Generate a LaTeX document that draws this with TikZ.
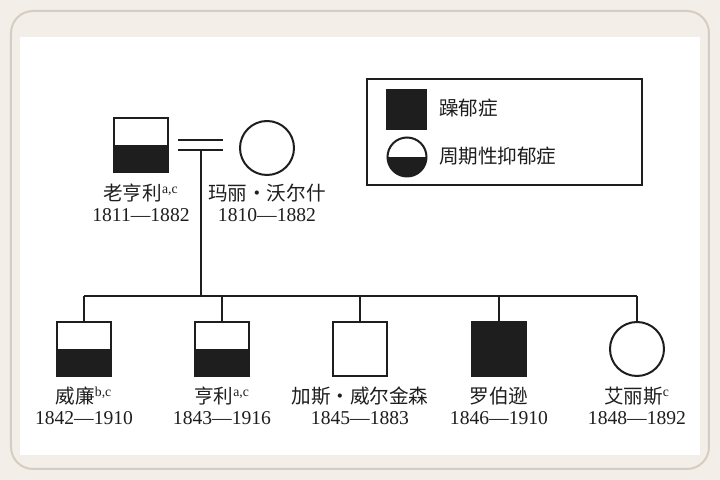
\documentclass[tikz,border=0pt]{standalone}
\usepackage{fontspec}
\setmainfont{Liberation Serif}
\newfontfamily\cjk{Noto Sans CJK SC}
\usetikzlibrary{calc}

\definecolor{paper}{HTML}{F3EEE8}
\definecolor{rim}{HTML}{D6CCC1}
\definecolor{ink}{HTML}{1E1E1E}

\tikzset{
  person/.style={draw=ink, line width=1pt, minimum size=27pt, inner sep=0pt},
  female/.style={person, circle},
  affected/.style={person, fill=ink},
  cyclic/.style={person, path picture={
      \fill[ink] (path picture bounding box.west) rectangle (path picture bounding box.south east);}},
  tag/.style={anchor=base, inner sep=0pt, text=ink, font=\fontsize{9.8}{11}\selectfont},
}

\begin{document}
\begin{tikzpicture}[x=0.5pt, y=-0.5pt, line width=1pt]
  % --- fondo y marco ---
  \useasboundingbox (0,0) rectangle (720,480);
  \fill[paper] (0,0) rectangle (720,480);
  \draw[rim, line width=1pt, rounded corners=11pt] (11,11) rectangle (709,469);
  \fill[white] (20,37) rectangle (700,455);

  % --- padres ---
  \node[cyclic] (lh) at (141,145) {};
  \node[female] (mw) at (267,148) {};
  \node[tag] (lh-n) at (141,200.5) {{\cjk 老亨利}\textsuperscript{a,c}};
  \node[tag] (lh-d) at (141,222) {1811—1882};
  \node[tag] (mw-n) at (267,200.5) {\cjk 玛丽・沃尔什};
  \node[tag] (mw-d) at (267,222) {1810—1882};

  \draw[ink] ($(lh.east)+(9,-5)$) -- ($(lh.east -| mw.west)+(-16,-5)$);
  \draw[ink] ($(lh.east)+(9,5)$) -- ($(lh.east -| mw.west)+(-16,5)$);
  \coordinate (mar) at (201,150);
  \coordinate (sib) at (201,296);
  \draw[ink] (mar) -- (sib);

  % --- hijos ---
  \node[cyclic] (wi) at (84,349) {};
  \node[cyclic] (he) at (222,349) {};
  \node[person] (ga) at (360,349) {};
  \node[affected] (ro) at (499,349) {};
  \node[female] (al) at (637,349) {};

  \draw[ink] (wi.north |- sib) -- (al.north |- sib);
  \draw[ink] (wi.north) -- (wi.north |- sib);
  \draw[ink] (he.north) -- (he.north |- sib);
  \draw[ink] (ga.north) -- (ga.north |- sib);
  \draw[ink] (ro.north) -- (ro.north |- sib);
  \draw[ink] (al.north) -- (al.north |- sib);

  \node[tag] (wi-n) at (84,403.5) {{\cjk 威廉}\textsuperscript{b,c}};
  \node[tag] (wi-d) at (84,425) {1842—1910};
  \node[tag] (he-n) at (222,403.5) {{\cjk 亨利}\textsuperscript{a,c}};
  \node[tag] (he-d) at (222,425) {1843—1916};
  \node[tag] (ga-n) at (360,403.5) {\cjk 加斯・威尔金森};
  \node[tag] (ga-d) at (360,425) {1845—1883};
  \node[tag] (ro-n) at (499,403.5) {\cjk 罗伯逊};
  \node[tag] (ro-d) at (499,425) {1846—1910};
  \node[tag] (al-n) at (637,403.5) {{\cjk 艾丽斯}\textsuperscript{c}};
  \node[tag] (al-d) at (637,425) {1848—1892};

  % --- leyenda ---
  \node[draw=ink, line width=0.75pt, minimum width=137.5pt, minimum height=53pt,
        inner sep=0pt] (key) at (504.5,132) {};
  \node[affected, minimum size=19.5pt] (key-a) at (407,110) {};
  \node[female, cyclic, minimum size=19.5pt] (key-c) at (407,157) {};
  \node[tag, anchor=base west] (key-a-t) at (438,115.5) {\cjk 躁郁症};
  \node[tag, anchor=base west] (key-c-t) at (438,163.5) {\cjk 周期性抑郁症};
\end{tikzpicture}
\end{document}
